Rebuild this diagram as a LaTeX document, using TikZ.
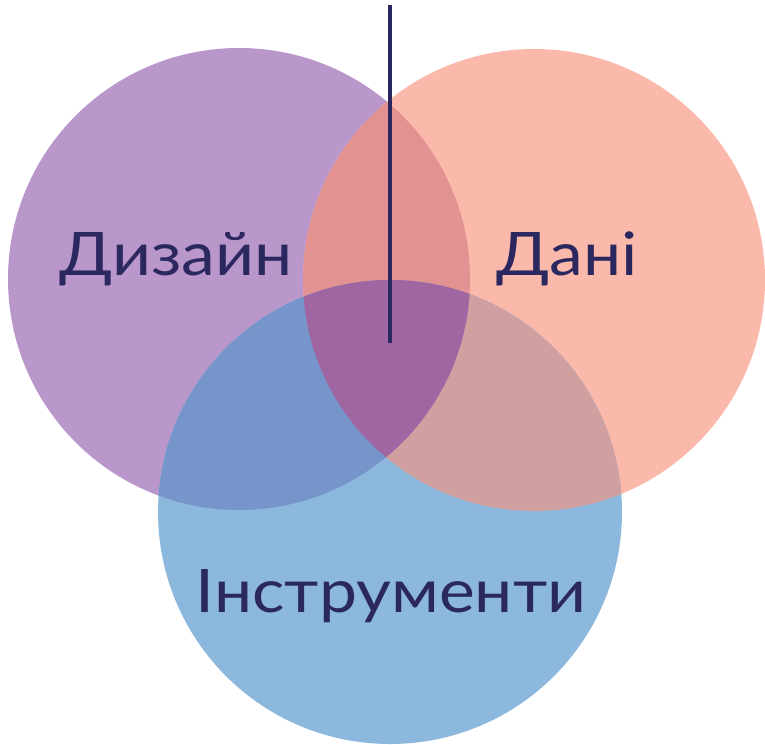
\documentclass[tikz,border=0pt]{standalone}
\usepackage{fontspec}
\setmainfont{Lato}
\usepackage{xcolor}
\usepackage{tikz}
\definecolor{ink}{HTML}{2B2860}
\definecolor{design}{HTML}{BA97CA}
\definecolor{dani}{HTML}{FBB9AB}
\definecolor{instr}{HTML}{8DB8DE}
\definecolor{desdani}{HTML}{E39292}
\definecolor{desinstr}{HTML}{7695CA}
\definecolor{daniinstr}{HTML}{D0A0A0}
\definecolor{allthree}{HTML}{A066A2}
\newcommand{\widelbl}[1]{\scalebox{1.13}[1]{#1}}

\begin{document}
\begin{tikzpicture}[x=1pt,y=-1pt,
    lbl/.style={font=\fontsize{60}{72}\selectfont,text=ink,anchor=base,inner sep=0pt},
    stick/.style={ink,line width=3.2pt}]
    \useasboundingbox (0,0) rectangle (765,744);
    \coordinate (des) at (239,279);
    \coordinate (dan) at (534,280);
    \coordinate (ins) at (390,512);
    % the three circles
    \fill[design] (des) circle (231);
    \fill[dani] (dan) circle (231);
    \fill[instr] (ins) circle (232);
    % overlaps
    \begin{scope}
      \clip (dan) circle (231);
      \fill[daniinstr] (ins) circle (232);
    \end{scope}
    \begin{scope}
      \clip (des) circle (231);
      \fill[desdani] (dan) circle (231);
      \fill[desinstr] (ins) circle (232);
      \clip (dan) circle (231);
      \fill[allthree] (ins) circle (232);
    \end{scope}
    % labels
    \node[lbl] (design) at (176,275) {\widelbl{Дизайн}};
    \node[lbl] (data) at (567,275) {\widelbl{Дані}};
    \node[lbl] (tools) at (391,612) {\widelbl{Інструменти}};
    \coordinate (top) at (390,5);
    \coordinate (bot) at (390,343);
    \draw[stick] (top) -- (bot);
\end{tikzpicture}
\end{document}
